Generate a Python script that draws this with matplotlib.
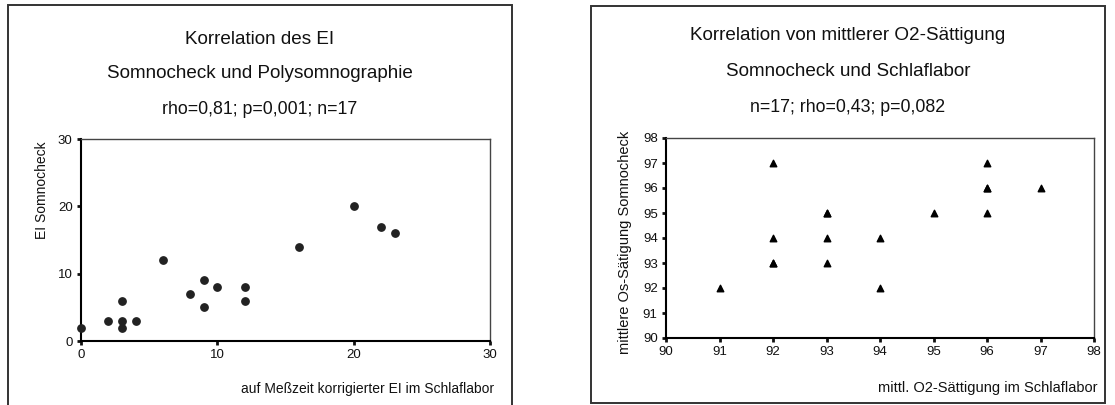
import matplotlib
matplotlib.use("Agg")
import matplotlib.pyplot as plt
from matplotlib.patches import Rectangle

plt.rcParams['font.family'] = ['Liberation Sans', 'DejaVu Sans']

# ---- Data: left panel (EI) ----
ei_lab = [0, 2, 3, 3, 3, 4, 6, 8, 9, 9, 10, 12, 12, 16, 20, 22, 23]
ei_somno = [2, 3, 6, 3, 2, 3, 12, 7, 9, 5, 8, 8, 6, 14, 20, 17, 16]
ei_ticks = [0, 10, 20, 30]

# ---- Data: right panel (O2 saturation) ----
o2_lab = [91, 92, 92, 92, 93, 93, 93, 93, 94, 94, 95, 96, 96, 96, 96, 97, 92]
o2_somno = [92, 97, 94, 93, 95, 95, 94, 93, 94, 92, 95, 97, 96, 95, 96, 96, 93]
o2_ticks = [90, 91, 92, 93, 94, 95, 96, 97, 98]

left_titles = ["Korrelation des EI", "Somnocheck und Polysomnographie",
               "rho=0,81; p=0,001; n=17"]
right_titles = ["Korrelation von mittlerer O2-Sättigung", "Somnocheck und Schlaflabor",
                "n=17; rho=0,43; p=0,082"]

W, H = 1115, 405
fig = plt.figure(figsize=(W / 100, H / 100), dpi=100)
fig.patch.set_facecolor('white')


def fx(px):
    return px / W


def fy(py):
    return 1 - py / H


def make_axes(l, r, t, b):
    return fig.add_axes([fx(l), fy(b), fx(r - l), (b - t) / H])


def style(ax):
    for s in ['left', 'bottom']:
        ax.spines[s].set_linewidth(1.5)
        ax.spines[s].set_color('black')
    for s in ['top', 'right']:
        ax.spines[s].set_linewidth(1.0)
        ax.spines[s].set_color('#444444')
    ax.tick_params(direction='out', length=3, width=2, labelsize=9.5,
                   colors='#111111', pad=3)


# Frames
fig.add_artist(Rectangle((fx(8), fy(440)), fx(512 - 8), (440 - 5) / H,
                         transform=fig.transFigure, fill=False,
                         edgecolor='#333333', linewidth=1.4))
fig.add_artist(Rectangle((fx(591), fy(403)), fx(1105 - 591), (403 - 6) / H,
                         transform=fig.transFigure, fill=False,
                         edgecolor='#333333', linewidth=1.4))

# Left axes
ax1 = make_axes(81, 490, 139, 341)
ax1.scatter(ei_lab, ei_somno, s=28, marker='o', color='#222222', zorder=3,
            clip_on=False)
ax1.set_xlim(0, 30)
ax1.set_ylim(0, 30)
ax1.set_xticks(ei_ticks)
ax1.set_yticks(ei_ticks)
style(ax1)
fig.text(fx(42), fy(190), "EI Somnocheck", rotation=90, ha='center',
         va='center', fontsize=10, color='#111111')
fig.text(fx(494), fy(389), "auf Meßzeit korrigierter EI im Schlaflabor",
         ha='right', va='center', fontsize=10, color='#111111')
for txt, y, fs in zip(left_titles, [40, 74, 109], [13.6, 13.6, 12.8]):
    fig.text(fx(260), fy(y), txt, ha='center', va='center', fontsize=fs,
             color='#111111')

# Right axes
ax2 = make_axes(666, 1094, 138, 338)
ax2.scatter(o2_lab, o2_somno, s=22, marker='^', color='black', zorder=3,
            clip_on=False)
ax2.set_xlim(90, 98)
ax2.set_ylim(90, 98)
ax2.set_xticks(o2_ticks)
ax2.set_yticks(o2_ticks)
style(ax2)
fig.text(fx(625), fy(242), "mittlere Os-Sätigung Somnocheck", rotation=90,
         ha='center', va='center', fontsize=10.5, color='#111111')
fig.text(fx(1097), fy(388), "mittl. O2-Sättigung im Schlaflabor",
         ha='right', va='center', fontsize=10.5, color='#111111')
for txt, y, fs in zip(right_titles, [35, 72, 107], [13.6, 13.6, 12.8]):
    fig.text(fx(848), fy(y), txt, ha='center', va='center', fontsize=fs,
             color='#111111')

fig.savefig("out.png", dpi=100, facecolor='white')
